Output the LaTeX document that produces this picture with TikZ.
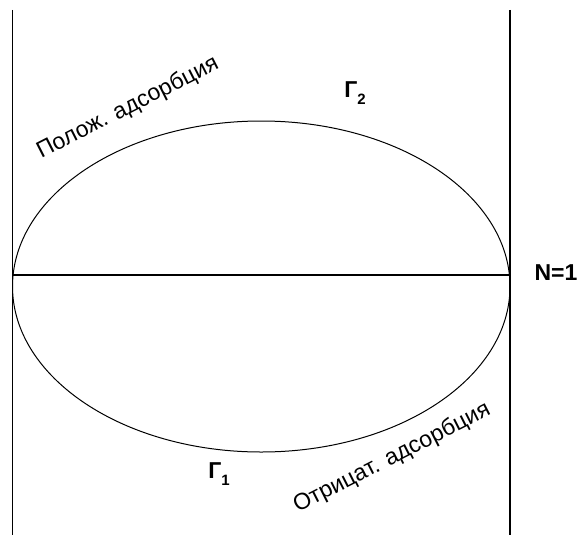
\documentclass[tikz,border=0pt]{standalone}
\usepackage{fontspec}
\setmainfont{Liberation Sans}
\begin{document}
\begin{tikzpicture}[x=1pt,y=-1pt,
  lbl/.style={inner sep=0pt,font=\fontsize{23}{25}\selectfont\bfseries},
  slant/.style={inner sep=0pt,font=\fontsize{23}{26}\selectfont},
  ln/.style={line width=1.3pt}]
\useasboundingbox (0,0) rectangle (580,535);
\coordinate (lt) at (12.5,10);
\coordinate (lb) at (12.5,535);
\coordinate (rt) at (510,10);
\coordinate (rb) at (510,535);
\coordinate (ml) at (12.5,275);
\coordinate (mr) at (510,275);
\draw[ln] (lt) -- (lb);
\draw[ln] (rt) -- (rb);
\draw[ln] (ml) -- (mr);
\draw[line width=1pt] (261.25,286.5) ellipse [x radius=248.75, y radius=165.5];
\node[lbl] (g2) at (355,93) {Г\raisebox{-0.3em}{\fontsize{15}{17}\selectfont 2}};
\node[lbl] (g1) at (219,474) {Г\raisebox{-0.3em}{\fontsize{15}{17}\selectfont 1}};
\node[lbl] (n1) at (556,273) {N=1};
\node[slant,rotate=27] (pos) at (128,108) {Полож. адсорбция};
\node[slant,rotate=27] (neg) at (392,458) {Отрицат. адсорбция};
\end{tikzpicture}
\end{document}
